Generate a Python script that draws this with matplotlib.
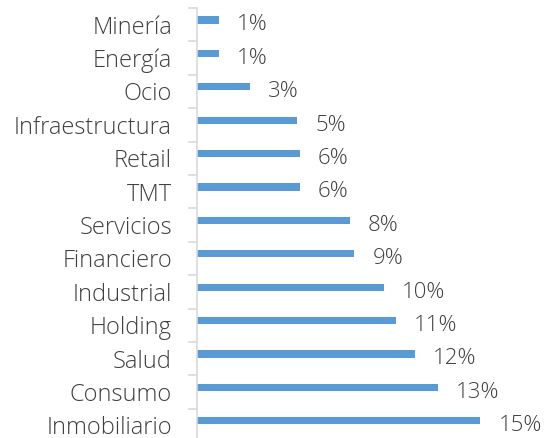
import matplotlib.pyplot as plt

# sectors, top to bottom, with share of deals in %
sectores = ['Minería', 'Energía', 'Ocio', 'Infraestructura', 'Retail', 'TMT',
            'Servicios', 'Financiero', 'Industrial', 'Holding', 'Salud',
            'Consumo', 'Inmobiliario']
valores = [1.2, 1.2, 2.9, 5.45, 5.6, 5.6, 8.3, 8.55, 10.15, 10.8, 11.85, 13.1, 15.4]

color_barra = '#5b9bd5'
color_texto = '#404040'
fuente = 'Open Sans'

W, H = 546, 439
fig = plt.figure(figsize=(W / 100, H / 100), dpi=100)

# axes placed in pixels: axis line at x=197, category rows of 33.4 px starting at y=9
paso = 33.4
top_px = 9
bottom_px = top_px + paso * len(sectores)
left_px = 197
ax = fig.add_axes([left_px / W, (H - bottom_px) / H, (W - left_px) / W, (bottom_px - top_px) / H])

escala = 18.4  # px per 1%
ax.set_xlim(0, (W - left_px) / escala)
off = 12 / paso
ax.set_ylim(len(sectores) - off, -off)

pos = list(range(len(sectores)))
ax.barh(pos, valores, height=0.21, color=color_barra)

for i, (s, v) in enumerate(zip(sectores, valores)):
    ax.text(-25 / escala, i + 0.38, s, ha='right', va='baseline', fontsize=17,
            family=fuente, weight='light', color=color_texto, clip_on=False)
    ax.text(v + 18 / escala, i + 0.28, '{:.0f}%'.format(v), ha='left', va='baseline',
            fontsize=16, family=fuente, weight='light', color=color_texto, clip_on=False)

for lado in ['top', 'right', 'bottom']:
    ax.spines[lado].set_visible(False)
ax.spines['left'].set_color('#d9d9d9')
ax.spines['left'].set_linewidth(1.2)
ax.set_xticks([])
ax.set_yticks([b - off for b in range(len(sectores) + 1)])
ax.set_yticklabels([])
ax.tick_params(axis='y', length=6.5, width=1.2, color='#d9d9d9')

fig.savefig('out.png', dpi=100)
